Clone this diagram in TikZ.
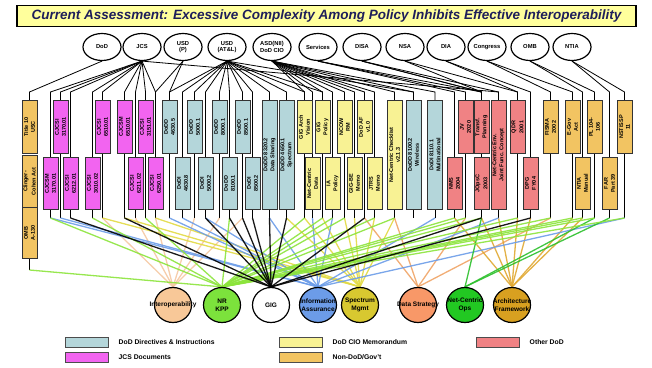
\documentclass[tikz,border=0pt]{standalone}
\usepackage{fontspec}
\setmainfont{Liberation Sans}
\usepackage{graphicx}
\usepackage{xcolor}
\usepackage{tikz}
\usetikzlibrary{shapes.geometric}
\usetikzlibrary{positioning}
\usetikzlibrary{backgrounds}
\definecolor{docblue}{HTML}{B4D6DA}
\definecolor{docpink}{HTML}{F264F0}
\definecolor{docyellow}{HTML}{F8F294}
\definecolor{doctan}{HTML}{F2C462}
\definecolor{docred}{HTML}{F08284}
\definecolor{titlefill}{HTML}{FFFF9C}
\definecolor{titletext}{HTML}{1E1E5A}
% topic fills
\definecolor{fill1}{HTML}{F8C898}
\definecolor{fill2}{HTML}{7CE23C}
\definecolor{fill3}{HTML}{FFFFFF}
\definecolor{fill4}{HTML}{6C9CE8}
\definecolor{fill5}{HTML}{D8C830}
\definecolor{fill6}{HTML}{F89868}
\definecolor{fill7}{HTML}{22C822}
\definecolor{fill8}{HTML}{D8A020}
% fan line colours
\definecolor{line1}{HTML}{F5C8A2}
\definecolor{line2}{HTML}{8CE43C}
\definecolor{line3}{HTML}{000000}
\definecolor{line4}{HTML}{6C9CE8}
\definecolor{line5}{HTML}{E2DA44}
\definecolor{line6}{HTML}{F0A466}
\definecolor{line7}{HTML}{2CC02C}
\definecolor{line8}{HTML}{E0A832}
\tikzset{
    doc/.style = {draw=black!80, line width=1pt, minimum width=15pt, inner sep=0pt, anchor=north, font=\fontsize{5.5}{5.8}\selectfont\bfseries},
    org/.style = {ellipse, draw=black, line width=1.2pt, fill=white, minimum width=38pt, minimum height=27pt, inner sep=0pt, align=center, font=\fontsize{5.8}{6.2}\selectfont\bfseries},
    topic/.style = {ellipse, draw=black, line width=1.2pt, minimum width=37pt, minimum height=35pt, inner sep=0pt},
    topic_text/.style = {align=center, inner sep=0pt, font=\fontsize{6.5}{8}\selectfont\bfseries},
    wire/.style = {draw=black, line width=0.8pt},
    fan/.style = {line width=1.3pt, opacity=0.9},
    title_box/.style = {draw=black, line width=1.2pt, fill=titlefill, minimum width=619pt, minimum height=21pt, text=titletext, font=\fontsize{13.5}{15}\selectfont\bfseries\itshape},
    swatch/.style = {draw=black!70, line width=1pt, minimum width=43pt, minimum height=10pt, inner sep=0pt},
    key/.style = {inner sep=0pt, font=\fontsize{6.8}{7}\selectfont\bfseries}
}

\begin{document}
\begin{tikzpicture}[x=1pt, y=-1pt]
\useasboundingbox (0,0) rectangle (652,367);

\node[title_box] (title) at (326.5,16) {Current Assessment: Excessive Complexity Among Policy Inhibits Effective Interoperability};

% policy owners
\foreach \nn/\xx/\lbl in {1/102/DoD, 2/142/JCS, 3/183/{USD\\(P)}, 4/227/{USD\\(AT\&L)}, 5/272/{ASD(NII)\\DoD CIO},
    6/318/Services, 7/362/DISA, 8/405/NSA, 9/446/DIA, 10/487/Congress, 11/530/OMB, 12/572/NTIA}
    \node[org] (e\nn) at (\xx,47) {\lbl};

% policy documents
\foreach \nn/\xx/\yy/\hh/\col/\lbl in {
    1/29.5/100/53/doctan/{Title 10\\USC}, 2/29.5/155/52/doctan/{Clinger-\\Cohen Act}, 3/29.5/207/51/doctan/{OMB\\A-130},
    4/60.5/100/53/docpink/{CJCSI\\3170.01}, 5/50.5/157/52/docpink/{CJCSM\\3170.01}, 6/70.5/157/52/docpink/{CJCSI\\6212.01},
    7/92.5/157/52/docpink/{CJCSI\\3010.02}, 8/102.5/100/53/docpink/{CJCSI\\6510.01}, 9/124.5/100/53/docpink/{CJCSM\\6510.01},
    10/135.5/157/52/docpink/{CJCSI\\6211.02}, 11/145.5/100/53/docpink/{CJCSI\\3151.01}, 12/155.5/157/52/docpink/{CJCSI\\6250.01},
    13/169.5/100/53/docblue/{DoDD\\4630.5}, 14/182.5/157/52/docblue/{DoDI\\4630.8}, 15/194.5/100/53/docblue/{DoDD\\5000.1},
    16/205.5/157/52/docblue/{DoDI\\5000.2}, 17/219.5/100/53/docblue/{DoDD\\8000.1}, 18/229.5/157/52/docblue/{DoDD\\8100.1},
    19/242.5/100/53/docblue/{DoDD\\8500.1}, 20/252.5/157/52/docblue/{DoDI\\8500.2}, 21/269.5/100/109/docblue/{DoDD 8320.2\\Data Sharing},
    22/286.5/100/109/docblue/{DoDD 4650.1\\Spectrum},
    23/304.5/100/53/docyellow/{GIG Arch\\Vision}, 24/312.5/157/52/docyellow/{Net-Centric\\Data}, 25/322.5/100/53/docyellow/{GIG\\Policy},
    26/332.5/157/52/docyellow/{IA\\Policy}, 27/344.5/100/53/docyellow/{NCOW\\RM}, 28/354.5/157/52/docyellow/{GIG-BE\\Memo},
    29/364.5/100/53/docyellow/{DoD AF\\v1.0}, 30/374.5/157/52/docyellow/{JTRS\\Memo}, 31/394.5/100/109/docyellow/{Net-Centric Checklist\\v2.1.3},
    32/413.5/100/109/docblue/{DoDD 8100.2\\Wireless}, 33/435/100/109/docblue/{DoDI 8110.1\\Multinational},
    34/454.5/157/52/docred/{NMS\\2004}, 35/465.5/100/53/docred/{JV\\2020}, 36/481.5/100/53/docred/{Transf.\\Planning},
    37/481.5/157/52/docred/{JOpsC\\2003}, 38/498.5/100/109/docred/{Net-Centric Env.\\Joint Func. Concept},
    39/517.5/100/53/docred/{QDR\\2001}, 40/530.5/157/52/docred/{DPG\\FY04},
    41/550.5/100/53/doctan/{FISMA\\2002}, 42/572.5/100/53/doctan/{E-Gov\\Act}, 43/582.5/157/52/doctan/{NTIA\\Manual},
    44/594.5/100/53/doctan/{PL 104-\\106}, 45/609.5/157/52/doctan/{FAR\\Part 39}, 46/624.5/100/53/doctan/{NSTISSP\\11}}
    \node[doc, fill=\col, minimum height=\hh pt] (b\nn) at (\xx,\yy) {\rotatebox{90}{\shortstack{\lbl}}};

% topics
\foreach \nn/\xx/\lbl in {1/173/Interoperability, 2/222/{NR\\KPP}, 3/271/GIG, 4/318/{Information\\Assurance},
    5/360/{Spectrum\\Mgmt}, 6/418/{Data Strategy}, 7/465/{Net-Centric\\Ops}, 8/512/{Architecture\\Framework}}
    \node[topic, fill=fill\nn, label={[topic_text]center:\lbl}] (c\nn) at (\xx,305) {};

% legend
\node[swatch, fill=docblue] (k1) at (86.5,342) {};
\node[key, right=10pt of k1] {DoD Directives \& Instructions};
\node[swatch, fill=docpink] (k2) at (86.5,357) {};
\node[key, right=10pt of k2] {JCS Documents};
\node[swatch, fill=docyellow] (k3) at (300.5,342) {};
\node[key, right=10pt of k3] {DoD CIO Memorandum};
\node[swatch, fill=doctan] (k4) at (300.5,357) {};
\node[key, right=10pt of k4] {Non-DoD/Gov't};
\node[swatch, fill=docred] (k5) at (497.5,342) {};
\node[key, right=10pt of k5] {Other DoD};

\begin{pgfonlayer}{background}
    % stubs below the documents
    \draw[wire] (b3.south) -- (b3.south |- 0,270) coordinate (s3);
    \foreach \nn in {4,...,46}
        \draw[wire] (b\nn.south) -- (b\nn.south |- 0,218) coordinate (s\nn);
    % documents to topics
    \foreach \bb/\cc in {8/1, 10/1, 12/1, 15/1, 17/1, 19/1,
        8/5, 9/5, 12/5, 22/5, 23/5, 25/5, 27/5, 28/5, 30/5, 31/5,
        29/6, 31/6, 35/6, 41/6, 34/8, 36/8, 38/8, 39/8, 40/8, 42/8, 43/8,
        4/4, 5/4, 13/4, 14/4, 16/4, 21/4, 24/4, 26/4, 33/4, 38/4, 46/4,
        37/7, 44/7, 45/7,
        3/2, 5/2, 7/2, 11/2, 18/2, 23/2, 25/2, 26/2, 27/2, 30/2, 31/2, 34/2, 35/2,
        37/2, 39/2, 41/2, 42/2, 43/2, 44/2, 46/2,
        6/3, 9/3, 16/3, 18/3, 19/3, 20/3, 21/3, 22/3, 29/3, 36/3, 40/3}
        \draw[fan, draw=line\cc] (s\bb) -- (c\cc.north);
    % owners to documents
    \foreach \ee/\bb in {1/1, 2/4, 2/5, 2/6, 2/7, 2/8, 2/9, 2/10, 2/11, 2/12, 2/38, 3/12, 3/13,
        4/13, 4/14, 4/15, 4/16, 4/17, 4/18, 4/19, 4/20, 4/21, 4/22, 4/23, 4/25, 4/32,
        5/23, 5/24, 5/25, 5/26, 5/27, 5/28, 5/29, 5/30, 5/31, 5/32, 5/33,
        6/34, 6/35, 6/36, 7/36, 7/37, 7/38, 8/37, 8/39, 9/39, 9/40,
        10/41, 10/42, 11/43, 11/44, 12/45, 12/46}
        \draw[wire] (e\ee.south) -- (b\bb.north |- 0,92) -- (b\bb.north);
\end{pgfonlayer}
\end{tikzpicture}
\end{document}
